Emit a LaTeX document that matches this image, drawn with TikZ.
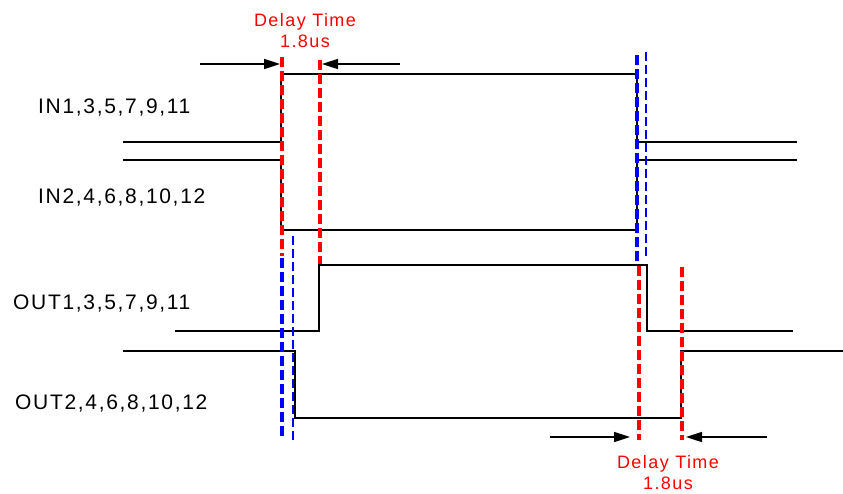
\documentclass[tikz,border=0pt]{standalone}
\usepackage{fontspec}
\newfontfamily\lblfont{Liberation Sans}[LetterSpace=8]
\usetikzlibrary{arrows.meta}
\begin{document}
\begin{tikzpicture}[x=1pt,y=-1pt,
  sig/.style={line width=1.6pt,black},
  redd/.style={line width=3.8pt,red,dash pattern=on 10pt off 4pt},
  blued/.style={line width=3.8pt,blue,dash pattern=on 10pt off 4pt},
  bluet/.style={line width=2.2pt,blue,dash pattern=on 9pt off 4pt},
  dim/.style={line width=1.6pt,-{Triangle[length=16pt,width=10pt]}},
  lbl/.style={anchor=base west,inner sep=0pt,font=\lblfont\fontsize{21}{24}\selectfont},
  dly/.style={anchor=base,inner sep=0pt,text=red,align=center,font=\lblfont\fontsize{18}{21}\selectfont}]
\useasboundingbox (0,0) rectangle (843,493);
% labels
\node[lbl] (lin1) at (38,113) {IN1,3,5,7,9,11};
\node[lbl] (lin2) at (38,203) {IN2,4,6,8,10,12};
\node[lbl] (lout1) at (13,309) {OUT1,3,5,7,9,11};
\node[lbl] (lout2) at (15,409) {OUT2,4,6,8,10,12};
\node[dly] (d1a) at (305,26) {Delay Time};
\node[dly] (d1b) at (305,47) {1.8us};
\node[dly] (d2a) at (668,468) {Delay Time};
\node[dly] (d2b) at (668,489) {1.8us};
% waveforms
\draw[sig] (123,142) -- (281,142) -- (281,74) -- (637,74) -- (637,142) -- (797,142);
\draw[sig] (123,160) -- (281,160) -- (281,230) -- (637,230) -- (637,160) -- (797,160);
\draw[sig] (175,331) -- (319,331) -- (319,265) -- (647,265) -- (647,331) -- (793,331);
\draw[sig] (123,351) -- (295,351) -- (295,418) -- (681,418) -- (681,351) -- (843,351);
% dashed markers
\draw[redd] (282,57) -- (282,256);
\draw[redd] (320,60) -- (320,264);
\draw[blued] (282,258) -- (282,436);
\draw[bluet] (293,236) -- (293,441);
\draw[blued] (637,55) -- (637,265);
\draw[bluet] (646,52) -- (646,256);
\draw[redd] (639,266) -- (639,440);
\draw[redd] (682,267) -- (682,440);
% delay arrows
\coordinate (a1s) at (200,64);
\coordinate (a1e) at (280,64);
\coordinate (a2s) at (400,64);
\coordinate (a2e) at (322,64);
\coordinate (b1s) at (550,437);
\coordinate (b1e) at (630,437);
\coordinate (b2s) at (767,437);
\coordinate (b2e) at (686,437);
\draw[dim] (a1s) -- (a1e);
\draw[dim] (a2s) -- (a2e);
\draw[dim] (b1s) -- (b1e);
\draw[dim] (b2s) -- (b2e);
\end{tikzpicture}
\end{document}
